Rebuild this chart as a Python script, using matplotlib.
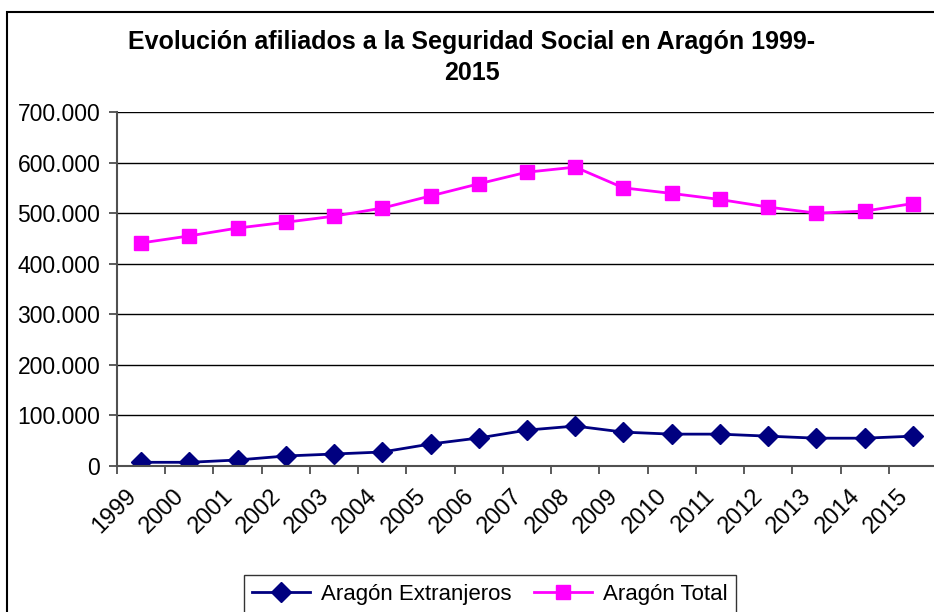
import matplotlib
matplotlib.use("Agg")
import matplotlib.pyplot as plt
import matplotlib.transforms as mtransforms
from matplotlib.patches import Rectangle
from matplotlib.ticker import FuncFormatter, FixedLocator

plt.rcParams['font.family'] = ['Liberation Sans', 'DejaVu Sans']

years = ["1999", "2000", "2001", "2002", "2003", "2004", "2005", "2006", "2007",
         "2008", "2009", "2010", "2011", "2012", "2013", "2014", "2015"]
extranjeros = [7300, 7300, 11900, 19800, 23700, 27700, 43500, 55400, 71000,
               79000, 67000, 63000, 63000, 59000, 55000, 55000, 59000]
total = [441000, 455000, 470500, 482000, 494000, 510000, 534000, 558000, 581000,
         591000, 550000, 539000, 527000, 512000, 500000, 504000, 519000]

fig = plt.figure(figsize=(9.34, 6.12), dpi=100)
ax = fig.add_axes([117/934, 1-466/612, 820/934, 354/612])

x = list(range(len(years)))
ax.plot(x, extranjeros, color="#000080", lw=2, marker="D", markersize=10,
        label="Aragón Extranjeros")
ax.plot(x, total, color="#FF00FF", lw=2, marker="s", markersize=10.5,
        label="Aragón Total")

ax.set_xlim(-0.5, len(years) - 0.5)
ax.set_ylim(0, 700000)
ax.set_yticks(range(0, 700001, 100000))
ax.yaxis.set_major_formatter(FuncFormatter(lambda v, p: "0" if v == 0 else f"{int(v):,}".replace(",", ".")))
ax.grid(axis="y", color="black", lw=1)
ax.set_axisbelow(True)

ax.set_xticks(x)
ax.set_xticklabels(years, rotation=45, ha="right", rotation_mode="anchor", fontsize=17)
ax.tick_params(axis="x", which="major", length=0, pad=12)
shift = mtransforms.ScaledTranslation(-0.16, -0.02, fig.dpi_scale_trans)
for lab in ax.get_xticklabels():
    lab.set_transform(lab.get_transform() + shift)
ax.xaxis.set_minor_locator(FixedLocator([i - 0.5 for i in range(len(years) + 1)]))
ax.tick_params(axis="x", which="minor", length=6, color="#404040", width=1.2)
ax.tick_params(axis="y", length=6, color="#404040", width=1.2, labelsize=16.5, pad=6)

for s in ["top", "right"]:
    ax.spines[s].set_visible(False)
for s in ["left", "bottom"]:
    ax.spines[s].set_color("#505050")
    ax.spines[s].set_linewidth(1.5)

fig.text(472/934, 1-42/612, "Evolución afiliados a la Seguridad Social en Aragón 1999-",
         ha="center", va="center", fontsize=18, fontweight="bold")
fig.text(472/934, 1-73/612, "2015", ha="center", va="center", fontsize=18, fontweight="bold")

fig.legend(loc="upper center", bbox_to_anchor=(490/934, 1-564/612), ncol=2,
           fontsize=16, frameon=True, fancybox=False, edgecolor="black",
           handlelength=2.6, columnspacing=1.0, handletextpad=0.5, borderpad=0.4)

fig.patches.append(Rectangle((7/934, -0.1), 1.2, 0.1 + 1-12/612, transform=fig.transFigure,
                             fill=False, edgecolor="black", lw=1.5, clip_on=False))

fig.savefig("out.png", dpi=100)
